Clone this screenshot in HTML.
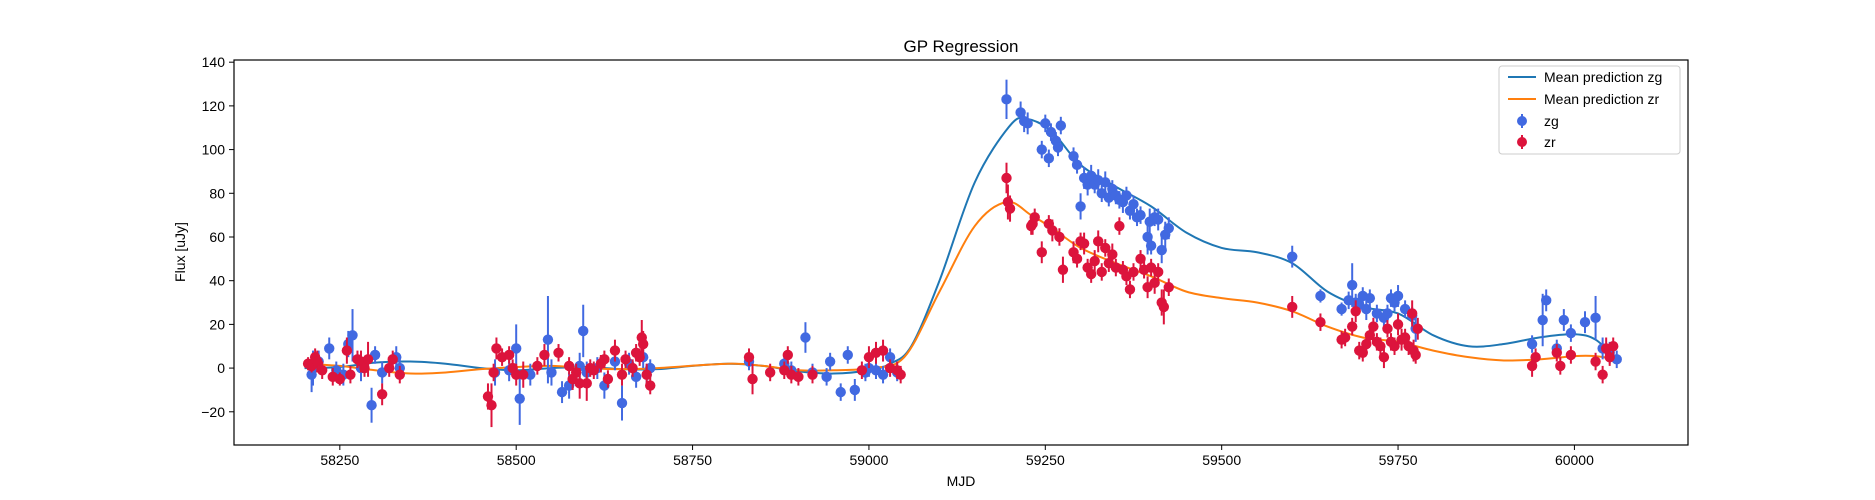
<!DOCTYPE html>
<html><head><meta charset="utf-8"><style>
body{margin:0;background:#fff;}
svg{display:block;font-family:"Liberation Sans","DejaVu Sans",sans-serif;}
</style></head><body>
<svg id="chart" width="1875" height="500" xmlns="http://www.w3.org/2000/svg">
<text x="961" y="52" text-anchor="middle" font-size="17">GP Regression</text>
<g id="grid"></g>
<g id="curves"></g>
<g id="points"></g>
<rect x="234" y="60" width="1454" height="385" fill="none" stroke="#000" stroke-width="1.2"/>
<g id="ticks"></g>
<text x="961" y="486" text-anchor="middle" font-size="14">MJD</text>
<text transform="translate(185,252) rotate(-90)" text-anchor="middle" font-size="14">Flux [uJy]</text>
<g>
<rect x="1499" y="66" width="181" height="88" rx="3" fill="#fff" fill-opacity="0.8" stroke="#ccc"/>
<line x1="1508" y1="77" x2="1536" y2="77" stroke="#1f77b4" stroke-width="2"/>
<text x="1544" y="82" font-size="14">Mean prediction zg</text>
<line x1="1508" y1="99" x2="1536" y2="99" stroke="#ff7f0e" stroke-width="2"/>
<text x="1544" y="104" font-size="14">Mean prediction zr</text>
<line x1="1522" y1="114" x2="1522" y2="128" stroke="#4169e1" stroke-width="2"/>
<circle cx="1522" cy="121" r="5" fill="#4169e1"/>
<text x="1544" y="126" font-size="14">zg</text>
<line x1="1522" y1="135" x2="1522" y2="149" stroke="#dc143c" stroke-width="2"/>
<circle cx="1522" cy="142" r="5" fill="#dc143c"/>
<text x="1544" y="147" font-size="14">zr</text>
</g>
</svg>
<script>
const xTicks=[58250,58500,58750,59000,59250,59500,59750,60000];
const yTicks=[-20,0,20,40,60,80,100,120,140];
const zgMjd=[58210,58212,58220,58235,58245,58255,58262,58268,58280,58295,58300,58310,58330,58335,58470,58490,58500,58505,58520,58545,58550,58565,58575,58590,58595,58600,58615,58625,58640,58650,58660,58670,58680,58690,58685,58830,58880,58890,58910,58920,58940,58945,58960,58970,58980,58995,59000,59010,59020,59030,59040,59195,59215,59220,59225,59245,59250,59255,59258,59265,59268,59272,59290,59295,59300,59305,59310,59315,59320,59325,59330,59335,59340,59345,59350,59355,59360,59365,59370,59375,59380,59385,59395,59398,59405,59410,59415,59420,59425,59400,59600,59640,59670,59680,59685,59690,59695,59700,59705,59710,59720,59730,59735,59740,59745,59750,59760,59770,59775,59940,59955,59960,59975,59985,59995,60015,60030,60040,60050,60060];
const zgFlux=[-3,0,3,9,-1,-3,11,15,0,-17,6,-2,5,0,-2,-1,9,-14,-3,13,-2,-11,-8,1,17,-2,0,-8,3,-16,2,-4,5,0,-3,3,2,-1,14,-2,-4,3,-11,6,-10,-2,0,-1,-3,5,-2,123,117,113,112,100,112,96,108,104,101,111,97,93,74,87,84,88,84,86,80,85,78,82,79,77,76,79,72,75,69,70,60,67,69,68,54,61,64,56,51,33,27,31,38,30,29,33,27,32,25,23,25,32,30,33,27,24,18,11,22,31,9,22,16,21,23,9,7,4];
const zgErr=[8,8,5,5,4,5,6,12,6,8,4,5,5,5,6,5,11,12,5,20,6,5,6,6,12,5,5,6,4,8,5,5,5,4,5,4,5,4,7,4,4,4,4,4,5,4,4,4,4,4,4,9,5,5,5,4,4,4,4,4,4,4,4,4,6,5,5,5,4,5,4,5,4,4,4,4,5,4,4,4,4,4,8,6,4,5,6,6,5,4,5,3,3,4,10,4,4,4,5,4,4,4,4,4,4,5,4,4,6,4,12,5,4,5,4,5,10,5,5,4];
const zrMjd=[58205,58210,58215,58218,58225,58240,58250,58260,58265,58275,58280,58285,58290,58310,58320,58325,58335,58460,58465,58468,58472,58480,58490,58495,58500,58510,58530,58540,58560,58575,58580,58585,58590,58600,58605,58610,58620,58625,58630,58640,58650,58655,58665,58670,58675,58678,58680,58685,58690,58830,58835,58860,58880,58890,58900,58885,58920,58990,59000,59010,59020,59030,59040,59045,59195,59197,59200,59230,59232,59235,59245,59255,59260,59270,59275,59290,59295,59300,59305,59310,59315,59320,59325,59330,59335,59340,59345,59350,59355,59360,59365,59370,59375,59385,59390,59395,59400,59405,59410,59415,59418,59425,59600,59640,59670,59675,59685,59690,59695,59700,59705,59710,59715,59720,59725,59730,59735,59740,59745,59750,59755,59760,59765,59770,59772,59775,59778,59940,59945,59975,59980,59995,60030,60040,60045,60050,60055];
const zrFlux=[2,1,5,3,-1,-4,-5,8,-3,4,3,0,4,-12,0,4,-3,-13,-17,-2,9,5,6,0,-3,-3,1,6,7,1,-5,-2,-7,-7,0,-1,2,4,-5,8,-3,4,0,7,5,14,11,-3,-8,5,-5,-2,-1,-3,-4,6,-3,-1,5,7,8,0,-1,-3,87,76,73,65,66,69,53,66,63,60,45,53,50,58,57,46,43,49,58,44,55,48,52,46,65,45,42,36,44,50,45,37,46,39,44,30,28,37,28,21,13,14,19,26,8,7,11,15,19,12,10,5,18,12,10,20,13,14,10,25,8,6,18,1,5,7,1,6,3,-3,9,5,10];
const zrErr=[3,3,4,5,4,4,3,6,4,4,5,4,8,5,4,4,4,6,10,4,5,4,4,4,5,6,4,5,4,4,5,4,7,8,4,4,4,4,4,5,5,4,4,4,4,8,6,5,4,4,7,4,4,4,4,4,4,4,5,5,5,4,4,4,7,8,6,4,5,4,5,4,5,4,6,5,4,4,5,4,4,5,5,4,4,4,5,4,4,4,4,4,4,4,4,5,4,5,4,6,8,4,5,4,4,4,4,5,4,4,4,4,4,4,4,5,4,4,4,5,5,4,4,6,5,4,5,5,4,4,4,4,4,4,5,4,4];
const meanZgMjd=[58200,58250,58300,58350,58400,58450,58500,58550,58600,58650,58700,58750,58800,58850,58900,58950,59000,59030,59060,59100,59150,59200,59225,59260,59300,59350,59400,59450,59500,59550,59600,59650,59700,59750,59800,59850,59900,59950,60000,60030,60060];
const meanZg=[0,0.5,2.5,3,2,0,-1,0,0.5,-0.5,-0.5,1,2,1,-1.5,-2.5,-1,2,10,40,85,111,114,108,93,83,74,62,55,53,48,35,28,25,15,10,11,14,15.5,13,4];
const meanZrMjd=[58200,58250,58300,58350,58400,58450,58500,58550,58600,58650,58700,58800,58850,58900,58950,59000,59050,59100,59150,59195,59230,59260,59300,59350,59400,59450,59500,59550,59600,59650,59700,59750,59800,59850,59900,59950,60000,60030,60060];
const meanZr=[2,1,-1,-2.5,-2,-0.5,0.5,1,0,-0.5,0,2,1,-1,-1,0,5,35,65,76,70,64,55,48,42,35,32,30,26,19,14,12,8,5,3.5,4,5.5,5.5,4];

const X0=58100,X1=60161,Y0=-35.2,Y1=141,L=234,R=1688,T=60,B=445;
const xs=v=>L+(v-X0)/(X1-X0)*(R-L);
const ys=v=>B-(v-Y0)/(Y1-Y0)*(B-T);
const NS="http://www.w3.org/2000/svg";
function mk(tag,parent,attrs){const e=document.createElementNS(NS,tag);for(const k in attrs)e.setAttribute(k,attrs[k]);parent.appendChild(e);return e;}
const tg=document.getElementById('ticks');
xTicks.forEach(t=>{
  const l=mk('line',tg,{x1:xs(t),x2:xs(t),y1:B,y2:B+5,stroke:'#000'});
  
  
  const tx=mk('text',tg,{x:xs(t),y:B+20,'text-anchor':'middle','font-size':14});
  tx.textContent=t;
  
  
});
yTicks.forEach(t=>{
  const l=mk('line',tg,{x1:L-5,x2:L,y1:ys(t),y2:ys(t),stroke:'#000'});
  
  
  const tx=mk('text',tg,{x:L-9,y:ys(t)+5,'text-anchor':'end','font-size':14});
  tx.textContent=String(t).replace('-','\u2212');
  
  
});
function smooth(xa,ya){
  const p=xa.map((x,i)=>[xs(x),ys(ya[i])]);
  let d='M'+p[0][0]+','+p[0][1];
  for(let i=0;i<p.length-1;i++){
    const p0=p[Math.max(0,i-1)],p1=p[i],p2=p[i+1],p3=p[Math.min(p.length-1,i+2)];
    const c1=[p1[0]+(p2[0]-p0[0])/6,p1[1]+(p2[1]-p0[1])/6];
    const c2=[p2[0]-(p3[0]-p1[0])/6,p2[1]-(p3[1]-p1[1])/6];
    d+=' C'+c1[0]+','+c1[1]+' '+c2[0]+','+c2[1]+' '+p2[0]+','+p2[1];
  }
  return d;
}
const cg=document.getElementById('curves');
const pz=mk('path',cg,{d:smooth(meanZgMjd,meanZg),fill:'none',stroke:'#1f77b4','stroke-width':2});


const pr=mk('path',cg,{d:smooth(meanZrMjd,meanZr),fill:'none',stroke:'#ff7f0e','stroke-width':2});


const pg=document.getElementById('points');
function series(m,f,e,col,name){
  m.forEach((x,i)=>{
    const l=mk('line',pg,{x1:xs(x),x2:xs(x),y1:ys(f[i]-e[i]),y2:ys(f[i]+e[i]),stroke:col,'stroke-width':2});
    
    
    const c=mk('circle',pg,{cx:xs(x),cy:ys(f[i]),r:5.2,fill:col});
    
    
  });
}
series(zgMjd,zgFlux,zgErr,'#4169e1','zg');
series(zrMjd,zrFlux,zrErr,'#dc143c','zr');
</script>
</body></html>
